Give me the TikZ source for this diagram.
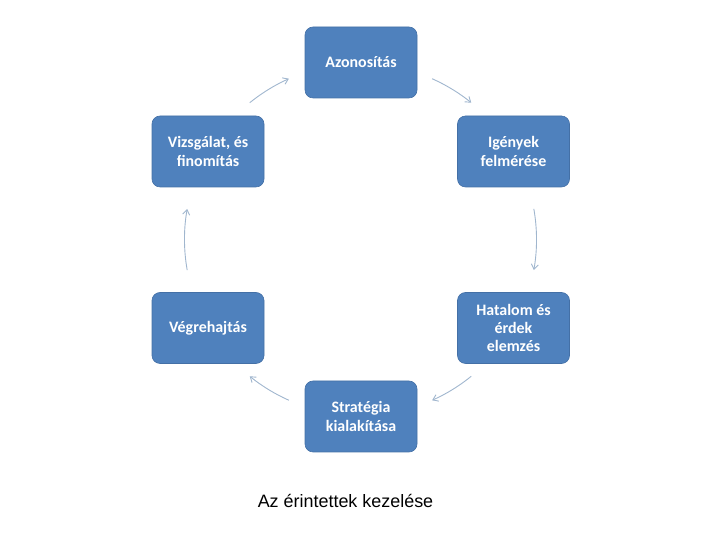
\documentclass[tikz,border=0pt]{standalone}
\usepackage{fontspec}
\setmainfont{Carlito}
\newfontfamily\capfont{Liberation Sans}
\usepackage{xcolor}
\usepackage{tikz}
\usetikzlibrary{arrows.meta,positioning,calc}
\definecolor{cbox}{RGB}{79,129,189}
\definecolor{cedge}{RGB}{68,112,166}
\definecolor{carrow}{RGB}{160,182,206}

\begin{document}
\begin{tikzpicture}[
    x=1bp, y=1bp,
    >={Straight Barb[length=5bp,width=7bp]},
    box/.style={
        rectangle,
        rounded corners=8bp,
        draw=cedge,
        fill=cbox,
        line width=0.6bp,
        minimum width=112bp,
        minimum height=71bp,
        inner sep=4pt,
        align=center,
        text=white,
        font=\fontsize{16}{18.5}\selectfont\bfseries
    },
    arr/.style={
        ->,
        line width=0.9bp,
        draw=carrow
    }
]
\useasboundingbox (0,0) rectangle (720,540);

% Centre of the cycle
\coordinate (hub) at (360.5,300.5);

% Steps of the cycle
\node[box] (azon)   at (361,477.5) {Azonosítás};
\node[box] (igeny)  at (513.5,388.5) {Igények\\felmérése};
\node[box] (hatal)  at (513.5,212) {Hatalom és\\érdek\\elemzés};
\node[box] (strat)  at (361,123.5) {Stratégia\\kialakítása};
\node[box] (vegre)  at (208,212) {Végrehajtás};
\node[box] (vizsg)  at (208,388.5) {Vizsgálat, és\\finomítás};

% Arrows between the steps (arcs round the hub)
\foreach \a/\b in {129/114, 66/51, 10/-10, -51/-66, -114/-129, 190/170}
    \draw[arr] ([shift={(\a:176)}]hub) arc[start angle=\a, end angle=\b, radius=176];

% Caption
\node[font=\capfont\fontsize{18}{21}\selectfont] (caption) at (345.5,39) {Az érintettek kezelése};

\end{tikzpicture}
\end{document}
